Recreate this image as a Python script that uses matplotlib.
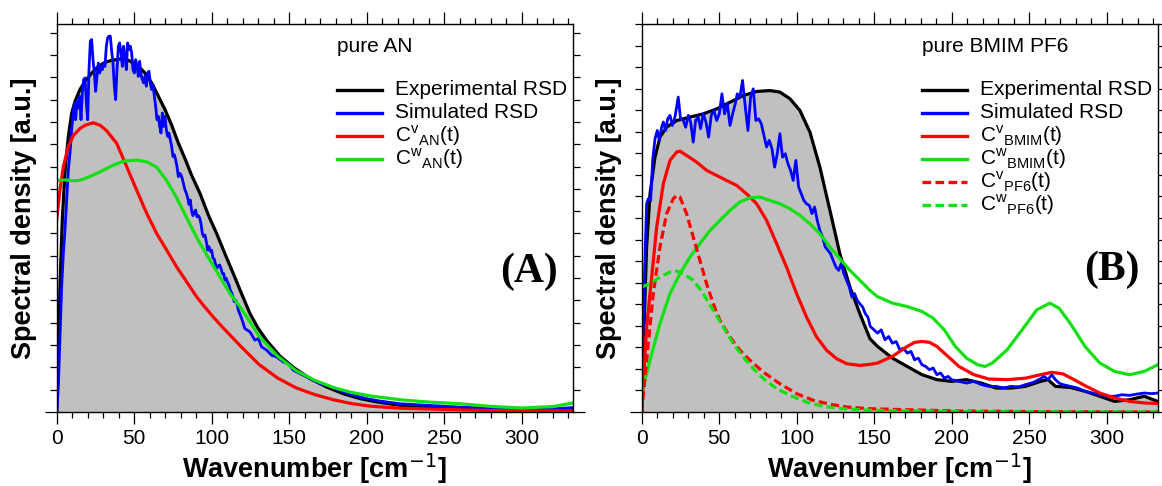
import matplotlib
matplotlib.use("Agg")
import matplotlib.pyplot as plt
from matplotlib.lines import Line2D
from matplotlib.ticker import MultipleLocator, FixedLocator

plt.rcParams['font.family'] = ['Liberation Sans', 'DejaVu Sans']

GREEN = '#12e012'

# ---------------- panel A : pure AN ----------------
a_exp_x = [0, 1.1, 2.1, 3.6, 5.4, 7.5, 9.7, 11.8, 15.0, 18.3, 22.6, 26.9, 31.2, 35.5, 40.8, 46.2,
           51.6, 57.0, 61.3, 65.6, 69.9, 74.2, 78.5, 82.8, 87.1, 92.5, 98.0, 103.2, 108.5, 113.9,
           119.3, 124.7, 130.0, 135.5, 144.1, 152.7, 163.4, 174.2, 184.9, 195.7, 206.5, 221.5, 238.7,
           260, 300, 333]
a_exp_y = [0, 2.62, 5.61, 8.61, 10.85, 12.35, 13.40, 13.92, 14.45, 14.82, 15.19, 15.49, 15.67, 15.76,
           15.82, 15.76, 15.57, 15.19, 14.75, 14.15, 13.55, 12.85, 12.05, 11.35, 10.60, 9.79, 8.80,
           8.00, 7.10, 6.21, 5.30, 4.41, 3.75, 3.20, 2.50, 2.00, 1.50, 1.12, 0.82, 0.60, 0.45, 0.30,
           0.22, 0.16, 0.10, 0.10]

a_sim_x = [0, 1.05, 2.13, 3.2, 4.28, 5.35, 7.5, 8.58, 9.65, 10.73, 11.38, 12.23, 13.1, 13.96, 14.82,
           15.68, 16.54, 17.4, 18.26, 19.12, 19.98, 20.84, 21.7, 22.56, 23.42, 24.28, 25.14, 26.0,
           26.86, 27.72, 28.58, 29.44, 30.3, 31.16, 32.02, 32.88, 33.74, 34.6, 35.46, 36.32, 37.18,
           38.04, 38.9, 39.76, 40.62, 41.48, 42.34, 43.2, 44.06, 44.92, 45.78, 46.64, 47.5, 48.36,
           49.22, 50.08, 50.94, 51.8, 52.66, 53.52, 54.38, 55.24, 56.1, 56.97, 57.83, 58.69, 59.55,
           60.41, 61.27, 62.13, 62.99, 63.85, 64.71, 65.57, 66.43, 67.29, 68.15, 69.01, 69.87, 70.73,
           71.59, 72.45, 73.31, 74.17, 75.03, 75.89, 76.75, 77.61, 78.47, 79.33, 80.19, 81.05, 81.91,
           82.77, 83.63, 84.49, 85.35, 86.21, 87.07, 87.93, 88.79, 89.65, 90.51, 91.37, 92.23, 93.09,
           93.95, 94.81, 95.67, 96.53, 97.39, 98.25, 99.11, 99.98, 100.84, 101.7, 102.56, 103.42,
           104.28, 105.14, 106.0, 106.86, 107.72, 108.58, 109.44, 110.3, 111.16, 112.02, 112.88,
           113.74, 114.6, 115.46, 116.32, 117.18, 118.04, 119.33, 120.4, 121.4, 124.7, 127.9, 130.1,
           132.2, 135.5, 138.7, 141.9, 146.2, 149.5, 152.7, 157.0, 161.3, 165.6, 169.9, 174.2, 178.5,
           184.9, 191.4, 200.0, 208.6, 221.5, 238.7, 260, 280, 300, 320, 333]
a_sim_y = [0, 1.12, 3.37, 5.61, 7.11, 8.16, 10.85, 11.60, 12.65, 13.40, 13.85, 13.10, 13.92, 13.62,
           14.15, 13.10, 14.30, 14.90, 14.97, 13.85, 13.10, 15.34, 16.62, 16.69, 15.79, 15.19, 14.37,
           15.04, 15.64, 15.19, 15.49, 15.34, 15.64, 15.49, 16.39, 16.77, 16.84, 16.84, 16.17, 15.64,
           14.60, 14.00, 15.34, 16.39, 16.54, 16.09, 15.49, 16.39, 15.94, 15.34, 16.54, 16.24, 16.39,
           16.09, 15.34, 15.19, 15.79, 15.49, 15.04, 15.72, 15.12, 14.90, 14.75, 15.04, 14.60, 15.19,
           15.27, 14.75, 14.45, 14.67, 14.15, 13.70, 13.10, 13.25, 12.80, 12.50, 13.40, 12.80, 13.25,
           12.65, 12.35, 12.50, 12.20, 11.90, 11.45, 11.53, 11.30, 11.00, 10.55, 10.70, 10.63, 10.45,
           10.20, 9.95, 9.81, 9.60, 9.30, 9.50, 9.00, 8.80, 8.95, 9.05, 8.75, 8.80, 8.70, 8.45,
           8.01, 7.86, 7.93, 7.63, 7.26, 7.41, 7.20, 7.25, 6.90, 6.85, 6.60, 6.45, 6.55, 6.59, 6.44,
           6.21, 6.21, 5.91, 5.99, 5.80, 5.70, 5.45, 5.35, 5.16, 4.94, 5.01, 4.87, 4.57, 4.42, 4.19,
           3.96, 3.74, 3.59, 3.22, 3.29, 2.92, 2.77, 2.54, 2.47, 2.24, 2.17, 1.87, 1.72, 1.57, 1.42,
           1.27, 1.20, 1.09, 0.90, 0.75, 0.60, 0.49, 0.37, 0.30, 0.22, 0.16, 0.11, 0.14, 0.20]

a_cv_x = [0, 2.1, 4.3, 7.5, 10.8, 15.0, 18.3, 23.6, 28.0, 32.3, 38.7, 45.2, 51.6, 58.1, 64.5, 71.0,
          77.4, 83.9, 90.3, 95.0, 101.1, 107.0, 118.8, 130.7, 142.6, 154.5, 166.5, 178.4, 190.0,
          202.2, 221.5, 247, 270, 300, 333]
a_cv_y = [8.61, 9.96, 11.00, 11.90, 12.40, 12.70, 12.85, 12.96, 12.85, 12.60, 12.04, 10.99, 9.94,
          8.90, 8.00, 7.25, 6.50, 5.83, 5.16, 4.75, 4.25, 3.80, 2.94, 2.12, 1.52, 1.08, 0.78, 0.55,
          0.38, 0.26, 0.17, 0.12, 0.08, 0.05, 0.05]

a_cw_x = [0, 5.4, 11.8, 15.0, 20.4, 27.9, 36.5, 43.0, 51.6, 58.1, 64.5, 71.0, 77.4, 83.9, 90.3,
          98.9, 105.4, 111.8, 118.3, 122.6, 130.7, 142.6, 154.5, 166.5, 178.4, 190.0, 202.2, 221.5,
          238.7, 260, 280, 300, 320, 333]
a_cw_y = [10.37, 10.40, 10.36, 10.39, 10.52, 10.76, 11.06, 11.24, 11.29, 11.21, 10.97, 10.37, 9.60,
          8.70, 7.82, 6.80, 6.05, 5.31, 4.71, 4.26, 3.39, 2.50, 1.85, 1.42, 1.10, 0.88, 0.72, 0.55,
          0.45, 0.37, 0.25, 0.18, 0.24, 0.40]

# ---------------- panel B : pure BMIM PF6 ----------------
b_exp_x = [0, 2.2, 3.2, 5.4, 8.6, 11.8, 16.1, 22.6, 31.2, 39.8, 48.4, 57.0, 65.6, 74.2, 82.8, 89.2,
           95.7, 102.1, 108.6, 115.0, 121.5, 127.9, 134.4, 140.8, 147.3, 152.2, 161.8, 171.4, 180.9,
           190.5, 200.0, 209.6, 219.2, 228.7, 238.3, 247.8, 257.4, 262.2, 267.0, 276.5, 286.1, 295.6,
           305.2, 314.8, 324.3, 333]
b_exp_y = [0, 5.49, 7.65, 10.12, 11.82, 12.75, 13.21, 13.52, 13.68, 13.83, 14.06, 14.37, 14.68, 14.87,
           14.91, 14.84, 14.53, 13.99, 12.98, 11.36, 9.35, 7.34, 5.80, 4.56, 3.40, 3.04, 2.50, 2.11,
           1.73, 1.50, 1.42, 1.50, 1.34, 1.11, 1.11, 1.19, 1.42, 1.50, 1.19, 1.14, 0.96, 0.73, 0.49,
           0.57, 0.73, 0.49]

b_sim_x = [0, 1.05, 2.1, 3.2, 4.3, 5.8, 7.1, 8.6, 10.1, 11.4, 12.9, 14.0, 15.5, 16.8, 18.3, 19.8, 21.5,
           23.6, 25.1, 26.9, 28.4, 30.1, 31.6, 33.3, 34.8, 36.5, 38.0, 39.8, 41.5, 43.2, 44.9, 46.6,
           48.4, 50.1, 51.8, 53.5, 55.3, 57.0, 58.7, 60.4, 61.7, 63.4, 65.1, 66.9, 68.6, 70.3, 72.0,
           73.7, 75.5, 77.2, 78.9, 80.6, 82.3, 84.1, 85.8, 87.5, 89.2, 90.9, 92.7, 94.4, 96.1, 97.8,
           99.5, 101.3, 103.0, 104.7, 106.4, 108.2, 109.9, 111.6, 113.3, 115.0, 116.8, 118.5, 120.2,
           121.9, 123.6, 125.4, 127.1, 128.8, 130.5, 132.2, 134.0, 135.7, 137.4, 139.1, 140.8, 142.6,
           144.3, 146.0, 147.5, 149.9, 152.2, 154.6, 157.0, 159.4, 161.8, 164.2, 166.6, 169.0, 171.4,
           173.8, 176.1, 178.5, 180.9, 183.3, 185.7, 188.1, 190.5, 192.9, 195.3, 197.7, 200.0, 204.8,
           209.6, 214.4, 219.2, 223.9, 228.7, 233.5, 238.3, 243.1, 247.8, 252.6, 256.2, 259.8, 262.2,
           264.6, 267.0, 269.4, 271.8, 276.5, 281.3, 286.1, 290.9, 295.6, 300.4, 305.2, 310.0, 314.8,
           319.5, 324.3, 329.1, 333]
b_sim_y = [0, 3.94, 7.03, 9.66, 9.89, 9.81, 11.67, 12.67, 13.06, 12.60, 13.21, 13.45, 13.06, 13.60,
           13.76, 13.29, 13.68, 14.61, 13.60, 13.52, 13.21, 13.76, 13.45, 12.52, 13.52, 13.68, 13.14,
           13.83, 13.45, 12.75, 13.76, 13.99, 13.52, 13.83, 14.76, 13.83, 14.30, 13.29, 13.83, 14.30,
           14.76, 14.61, 15.38, 14.14, 13.06, 14.61, 14.99, 13.52, 13.60, 13.37, 12.83, 12.29, 12.60,
           12.21, 11.36, 11.98, 12.91, 11.82, 11.98, 11.51, 11.21, 10.74, 11.67, 10.43, 10.12, 9.81,
           9.66, 9.58, 9.20, 9.51, 8.89, 8.42, 8.11, 7.65, 7.50, 7.34, 7.03, 6.72, 6.57, 6.88, 6.41,
           6.11, 5.80, 5.33, 5.49, 5.18, 5.02, 4.87, 4.56, 4.40, 3.97, 3.81, 3.66, 3.81, 3.35, 3.50,
           3.19, 3.27, 2.89, 2.96, 2.73, 2.81, 2.42, 2.50, 2.19, 2.11, 1.96, 2.04, 1.73, 1.81, 1.57,
           1.65, 1.50, 1.42, 1.34, 1.42, 1.27, 1.19, 1.19, 1.11, 1.19, 1.16, 1.27, 1.37, 1.50, 1.65,
           1.50, 1.73, 1.50, 1.34, 1.27, 1.19, 1.11, 0.96, 0.88, 0.80, 0.73, 0.73, 0.80, 0.77, 0.83,
           0.88, 0.85, 0.88]

b_cv_bmim_x = [0, 3.2, 5.4, 9.7, 14.0, 18.3, 22.6, 24.7, 29.0, 35.5, 41.9, 48.4, 54.8, 61.3, 67.7,
               74.2, 80.6, 87.1, 93.5, 100, 106.4, 112.9, 119.4, 125.8, 132.3, 140.9, 147.3, 152.2,
               161.8, 171.4, 176.1, 180.9, 185.7, 190.5, 195.3, 204.8, 214.4, 223.9, 235.9, 247.8,
               257.4, 264.6, 271.8, 279.0, 286.1, 295.6, 305.2, 314.8, 324.3, 333]
b_cv_bmim_y = [0, 3.94, 5.49, 8.58, 10.59, 11.67, 12.06, 12.10, 11.90, 11.59, 11.21, 10.97, 10.74,
               10.51, 10.12, 9.66, 8.89, 7.81, 6.72, 5.49, 4.40, 3.48, 2.86, 2.47, 2.24, 2.16, 2.21,
               2.27, 2.58, 3.04, 3.23, 3.27, 3.23, 3.04, 2.73, 2.11, 1.73, 1.53, 1.50, 1.57, 1.73,
               1.84, 1.77, 1.50, 1.22, 0.88, 0.65, 0.49, 0.42, 0.39]

b_cw_bmim_x = [0, 5.4, 11.8, 18.3, 24.7, 31.2, 37.6, 44.1, 50.5, 57.0, 63.4, 69.9, 76.3, 82.8, 89.2,
               95.7, 102.1, 108.6, 115.0, 121.5, 127.9, 134.4, 140.8, 147.3, 152.2, 161.8, 171.4,
               180.9, 188.1, 195.3, 202.4, 209.6, 216.8, 221.6, 226.3, 235.9, 245.5, 255.0, 263.4,
               269.4, 276.5, 286.1, 295.6, 305.2, 314.8, 324.3, 333]
b_cw_bmim_y = [0.85, 2.40, 4.10, 5.49, 6.41, 7.19, 7.81, 8.42, 8.89, 9.35, 9.74, 9.94, 9.97, 9.81,
               9.66, 9.43, 9.12, 8.73, 8.27, 7.65, 7.11, 6.57, 6.11, 5.64, 5.35, 5.05, 4.89, 4.66,
               4.35, 3.81, 3.04, 2.50, 2.19, 2.11, 2.27, 2.89, 3.81, 4.74, 5.05, 4.81, 4.12, 3.04,
               2.27, 1.88, 1.73, 1.88, 2.19]

b_cv_pf6_x = [0, 3.2, 7.5, 11.8, 16.1, 20.4, 22.6, 24.7, 29.0, 33.3, 37.6, 41.9, 46.2, 50.5, 57.0,
              63.4, 69.9, 78.5, 89.2, 100, 110.8, 121.5, 132.3, 147.3, 200, 250, 333]
b_cv_pf6_y = [0, 2.40, 5.49, 7.65, 9.20, 9.89, 10.05, 9.97, 9.20, 8.11, 7.03, 5.95, 5.02, 4.25, 3.48,
              2.86, 2.40, 1.85, 1.31, 0.85, 0.54, 0.36, 0.23, 0.15, 0.05, 0.02, 0.0]

b_cw_pf6_x = [0, 5.4, 11.8, 18.3, 22.6, 26.9, 33.3, 39.8, 46.2, 52.7, 59.1, 65.6, 72.0, 78.5, 87.1,
              95.7, 106.4, 117.2, 130.1, 147.3, 200, 333]
b_cw_pf6_y = [5.80, 5.95, 6.26, 6.49, 6.54, 6.41, 6.11, 5.49, 4.71, 3.94, 3.17, 2.55, 2.01, 1.55,
              1.08, 0.77, 0.46, 0.26, 0.15, 0.08, 0.02, 0.0]


def style_axes(ax, ytop):
    ax.set_xlim(0, 333)
    ax.set_ylim(0, ytop)
    ax.xaxis.set_major_locator(MultipleLocator(50))
    ax.xaxis.set_minor_locator(MultipleLocator(10))
    ax.yaxis.set_major_locator(FixedLocator([0]))
    ax.yaxis.set_minor_locator(FixedLocator(list(range(1, int(ytop) + 1))))
    ax.tick_params(which='both', direction='out', top=True, right=True, width=0.9,
                   labelleft=False, labelsize=15, pad=4)
    ax.tick_params(axis='x', which='major', length=8.5)
    ax.tick_params(axis='x', which='minor', length=4)
    ax.tick_params(axis='y', which='major', length=8.5)
    ax.tick_params(axis='y', which='minor', length=5)
    for s in ax.spines.values():
        s.set_linewidth(1.0)
    ax.set_xlabel('Wavenumber [cm$^{-1}$]', fontsize=19.5, fontweight='bold', labelpad=2)
    ax.set_ylabel('Spectral density [a.u.]', fontsize=19.5, fontweight='bold', labelpad=6)


def legend_rows(ax, title, entries):
    ax.text(0.543, 0.943, title, transform=ax.transAxes, fontsize=15, va='center', ha='left')
    y0, dy = 0.830, 0.0593
    for i, (lab, col, ls) in enumerate(entries):
        y = y0 - i * dy
        ax.add_line(Line2D([0.543, 0.630], [y, y], transform=ax.transAxes, color=col,
                           lw=2.4, linestyle=ls))
        ax.text(0.656, y, lab, transform=ax.transAxes, fontsize=15, va='center', ha='left')


fig = plt.figure(figsize=(11.62, 4.86), dpi=100)
axA = fig.add_axes([0.0488, 0.1523, 0.4441, 0.7984])
axB = fig.add_axes([0.5522, 0.1523, 0.4441, 0.7984])

dash = (0, (2.6, 1.3))

# panel A
axA.fill_between(a_exp_x, a_exp_y, color='#c0c0c0', lw=0)
axA.plot(a_exp_x, a_exp_y, color='black', lw=2.3)
axA.plot(a_sim_x, a_sim_y, color='#0000ff', lw=2.0)
axA.plot(a_cv_x, a_cv_y, color='#ff0000', lw=2.3)
axA.plot(a_cw_x, a_cw_y, color=GREEN, lw=2.3)
style_axes(axA, 17.39)
legend_rows(axA, 'pure AN', [
    ('Experimental RSD', 'black', '-'),
    ('Simulated RSD', '#0000ff', '-'),
    (r'C$^\mathregular{v}$$_\mathregular{AN}$(t)', '#ff0000', '-'),
    (r'C$^\mathregular{w}$$_\mathregular{AN}$(t)', GREEN, '-'),
])
axA.text(0.915, 0.361, '(A)', transform=axA.transAxes, fontsize=30, fontweight='bold',
         family='Liberation Serif', ha='center', va='center')

# panel B
axB.fill_between(b_exp_x, b_exp_y, color='#c0c0c0', lw=0)
axB.plot(b_exp_x, b_exp_y, color='black', lw=2.3)
axB.plot(b_sim_x, b_sim_y, color='#0000ff', lw=2.0)
axB.plot(b_cv_bmim_x, b_cv_bmim_y, color='#ff0000', lw=2.3)
axB.plot(b_cw_bmim_x, b_cw_bmim_y, color=GREEN, lw=2.3)
axB.plot(b_cv_pf6_x, b_cv_pf6_y, color='#ff0000', lw=2.3, linestyle=dash)
axB.plot(b_cw_pf6_x, b_cw_pf6_y, color=GREEN, lw=2.3, linestyle=dash)
style_axes(axB, 18.0)
legend_rows(axB, 'pure BMIM PF6', [
    ('Experimental RSD', 'black', '-'),
    ('Simulated RSD', '#0000ff', '-'),
    (r'C$^\mathregular{v}$$_\mathregular{BMIM}$(t)', '#ff0000', '-'),
    (r'C$^\mathregular{w}$$_\mathregular{BMIM}$(t)', GREEN, '-'),
    (r'C$^\mathregular{v}$$_\mathregular{PF6}$(t)', '#ff0000', dash),
    (r'C$^\mathregular{w}$$_\mathregular{PF6}$(t)', GREEN, dash),
])
axB.text(0.911, 0.366, '(B)', transform=axB.transAxes, fontsize=30, fontweight='bold',
         family='Liberation Serif', ha='center', va='center')

fig.savefig('out.png', dpi=100)
